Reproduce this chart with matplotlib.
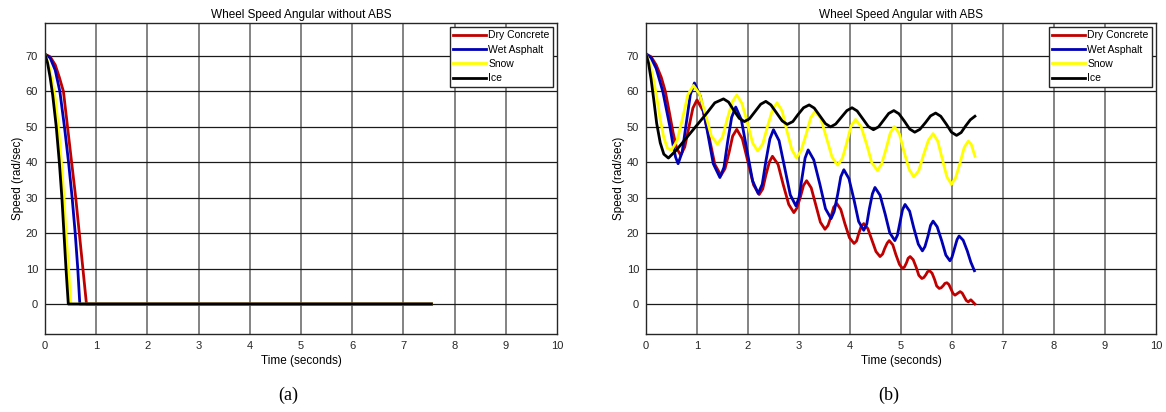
import numpy as np
import matplotlib
matplotlib.use("Agg")
import matplotlib.pyplot as plt

plt.rcParams['font.family'] = ['Liberation Sans', 'DejaVu Sans']

labels = ["Dry Concrete", "Wet Asphalt", "Snow", "Ice"]
colors = ["#c00000", "#0000b4", "#ffff00", "#000000"]

# ---- (a) without ABS : time (s), speed (rad/s) ----
dry_t_a = [0, 0.1, 0.2, 0.28, 0.36, 0.44, 0.52, 0.6, 0.67, 0.74, 0.81, 7.55]
dry_v_a = [70.5, 69.8, 67.5, 64, 60, 50, 40, 30, 20, 10, 0, 0]
wet_t_a = [0, 0.1, 0.2, 0.29, 0.38, 0.46, 0.53, 0.59, 0.64, 0.68, 7.55]
wet_v_a = [70.5, 69.5, 66, 60, 50, 40, 30, 20, 10, 0, 0]
snow_t_a = [0, 0.08, 0.14, 0.2, 0.26, 0.32, 0.37, 0.41, 0.46, 0.5, 7.55]
snow_v_a = [70.5, 67, 63, 58, 50, 40, 30, 20, 10, 0, 0]
ice_t_a = [0, 0.05, 0.1, 0.15, 0.22, 0.28, 0.33, 0.37, 0.41, 0.455, 7.55]
ice_v_a = [70.5, 68, 64, 59, 50, 40, 30, 20, 10, 0, 0]

# ---- (b) with ABS ----
dry_t_b = [0, 0.1, 0.2, 0.3, 0.38, 0.46, 0.53, 0.6, 0.68, 0.76, 0.84, 0.92, 1.0,
           1.12, 1.24, 1.35, 1.47, 1.55, 1.63, 1.7, 1.78, 1.89, 2.0, 2.11, 2.22,
           2.29, 2.35, 2.42, 2.48, 2.59, 2.69, 2.8, 2.9, 2.96, 3.03, 3.09, 3.15,
           3.24, 3.33, 3.42, 3.51, 3.57, 3.63, 3.68, 3.74, 3.82, 3.9, 3.99, 4.08,
           4.13, 4.17, 4.22, 4.27, 4.35, 4.43, 4.51, 4.59, 4.64, 4.68, 4.73, 4.77,
           4.84, 4.9, 4.97, 5.03, 5.07, 5.11, 5.14, 5.18, 5.24, 5.3, 5.35, 5.41,
           5.45, 5.49, 5.52, 5.56, 5.61, 5.66, 5.7, 5.75, 5.79, 5.83, 5.86, 5.9,
           5.94, 5.98, 6.02, 6.06, 6.11, 6.16, 6.2, 6.24, 6.28, 6.32, 6.37, 6.45]
dry_v_b = [70.6, 69.8, 67.5, 64, 60, 54, 48.5, 44, 42, 44.3, 49.8, 55.3, 57.6,
           54.5, 47.0, 39.4, 36.3, 38.2, 42.8, 47.4, 49.3, 46.6, 40.1, 33.6, 30.9,
           32.5, 36.3, 40.1, 41.7, 39.4, 33.75, 28.1, 25.8, 27.1, 30.3, 33.5, 34.8,
           32.8, 27.95, 23.1, 21.1, 22.2, 24.75, 27.3, 28.4, 26.7, 22.7, 18.7, 17.1,
           17.8, 19.8, 21.9, 22.7, 21.3, 18.05, 14.8, 13.4, 14.1, 15.65, 17.2, 17.9,
           16.7, 13.95, 11.2, 10.0, 10.5, 11.7, 12.9, 13.4, 12.5, 10.3, 8.1, 7.2,
           7.5, 8.3, 9.1, 9.4, 8.7, 6.9, 5.1, 4.4, 4.6, 5.2, 5.8, 6.0,
           5.5, 4.25, 3.0, 2.5, 3.0, 3.5, 3.1, 2.05, 1.0, 0.6, 1.2, 0.0]

wet_t_b = [0, 0.1, 0.2, 0.27, 0.33, 0.4, 0.47, 0.53, 0.58, 0.63, 0.71, 0.79, 0.87,
           0.95, 1.07, 1.2, 1.32, 1.45, 1.53, 1.6, 1.68, 1.76, 1.87, 1.98, 2.09,
           2.2, 2.28, 2.35, 2.43, 2.5, 2.61, 2.72, 2.83, 2.94, 3.0, 3.06, 3.12,
           3.18, 3.29, 3.41, 3.52, 3.63, 3.69, 3.76, 3.82, 3.88, 3.98, 4.08, 4.17,
           4.27, 4.33, 4.38, 4.44, 4.49, 4.59, 4.69, 4.78, 4.88, 4.93, 4.98, 5.03,
           5.08, 5.17, 5.25, 5.34, 5.42, 5.47, 5.53, 5.58, 5.63, 5.71, 5.8, 5.88,
           5.96, 6.0, 6.05, 6.1, 6.14, 6.22, 6.3, 6.37, 6.44]
wet_v_b = [70.6, 69.5, 66.5, 63, 60, 55, 50, 45, 41.5, 39.6, 42.9, 51.0, 59.1,
           62.4, 58.5, 49.05, 39.6, 35.7, 38.6, 45.65, 52.7, 55.6, 52.0, 43.4, 34.8,
           31.2, 33.8, 40.2, 46.6, 49.2, 46.1, 38.45, 30.8, 27.7, 30.0, 35.6, 41.2,
           43.5, 40.7, 33.8, 26.9, 24.1, 26.1, 31.0, 35.9, 37.9, 35.4, 29.35, 23.3,
           20.8, 22.6, 26.85, 31.1, 32.9, 30.7, 25.4, 20.1, 17.9, 19.4, 23.0, 26.6,
           28.1, 26.2, 21.55, 16.9, 15.0, 16.2, 19.2, 22.2, 23.4, 21.8, 17.8, 13.8,
           12.2, 13.2, 15.7, 18.2, 19.2, 18.0, 15.0, 11.8, 9.4]

snow_t_b = [0, 0.08, 0.15, 0.21, 0.28, 0.35, 0.42, 0.5, 0.61, 0.72, 0.82, 0.93,
            1.05, 1.17, 1.28, 1.4, 1.5, 1.59, 1.69, 1.78, 1.88, 1.99, 2.09, 2.19,
            2.29, 2.38, 2.48, 2.57, 2.67, 2.76, 2.86, 2.95, 3.04, 3.14, 3.23, 3.32,
            3.43, 3.54, 3.65, 3.76, 3.85, 3.94, 4.02, 4.11, 4.22, 4.33, 4.43, 4.54,
            4.62, 4.71, 4.79, 4.87, 4.97, 5.06, 5.16, 5.25, 5.35, 5.44, 5.54, 5.63,
            5.72, 5.81, 5.9, 5.99, 6.07, 6.16, 6.24, 6.32, 6.38, 6.45]
snow_v_b = [70.6, 67.5, 63, 58.5, 52, 47, 44, 43.4, 46.1, 52.55, 59.0, 61.7,
            59.3, 53.4, 47.5, 45.1, 47.1, 52.05, 57.0, 59.0, 56.7, 51.1, 45.5, 43.2,
            45.2, 50.0, 54.8, 56.8, 54.5, 49.05, 43.6, 41.3, 43.2, 47.9, 52.6, 54.5,
            52.3, 46.85, 41.4, 39.2, 41.1, 45.65, 50.2, 52.1, 50.0, 44.9, 39.8, 37.7,
            39.5, 43.9, 48.3, 50.1, 48.0, 43.0, 38.0, 35.9, 37.7, 42.0, 46.3, 48.1,
            46.0, 40.95, 35.9, 33.8, 35.6, 39.9, 44.2, 46.0, 45.0, 41.7]

ice_t_b = [0, 0.05, 0.1, 0.15, 0.21, 0.28, 0.35, 0.44, 0.6, 0.8, 1.0, 1.2, 1.35,
           1.52, 1.62, 1.72, 1.83, 1.93, 2.03, 2.14, 2.25, 2.35, 2.45, 2.56, 2.67,
           2.77, 2.88, 2.98, 3.09, 3.2, 3.3, 3.41, 3.52, 3.62, 3.72, 3.83, 3.94,
           4.04, 4.14, 4.25, 4.36, 4.46, 4.56, 4.66, 4.76, 4.86, 4.96, 5.07, 5.17,
           5.27, 5.37, 5.48, 5.58, 5.68, 5.78, 5.89, 5.99, 6.09, 6.18, 6.27, 6.36,
           6.45]
ice_v_b = [70.6, 68, 63.5, 58, 51, 45.5, 42.3, 41.2, 43.5, 47, 50.5, 54, 56.8,
           57.9, 57.0, 54.7, 52.4, 51.5, 52.3, 54.35, 56.4, 57.2, 56.2, 53.95, 51.7,
           50.7, 51.5, 53.45, 55.4, 56.2, 55.3, 53.1, 50.9, 50.0, 50.8, 52.7, 54.6,
           55.4, 54.5, 52.3, 50.1, 49.2, 50.0, 51.9, 53.8, 54.6, 53.7, 51.55, 49.4,
           48.5, 49.3, 51.2, 53.1, 53.9, 53.0, 50.75, 48.5, 47.6, 48.4, 50.3, 52.0,
           53.0]

series_a = [(dry_t_a, dry_v_a), (wet_t_a, wet_v_a), (snow_t_a, snow_v_a), (ice_t_a, ice_v_a)]
series_b = [(dry_t_b, dry_v_b), (wet_t_b, wet_v_b), (snow_t_b, snow_v_b), (ice_t_b, ice_v_b)]

fig = plt.figure(figsize=(11.66, 4.12), dpi=100)
ax1 = fig.add_axes([0.0386, 0.189, 0.439, 0.755])
ax2 = fig.add_axes([0.554, 0.189, 0.4374, 0.755])


def style_axes(ax, title):
    ax.set_xlim(0, 10)
    ax.set_ylim(-8.5, 79.3)
    ax.set_xticks(range(0, 11))
    ax.set_yticks(range(0, 71, 10))
    ax.tick_params(direction='in', length=0, labelsize=8, colors='#262626', pad=5)
    for x in range(1, 10):
        ax.axvline(x, color='#7a7a7a', lw=1.3, zorder=0)
    for y in range(0, 71, 10):
        ax.axhline(y, color='#1a1a1a', lw=0.9, zorder=0)
    for s in ax.spines.values():
        s.set_color('#262626')
        s.set_linewidth(1.0)
    ax.set_title(title, fontsize=8.5, pad=4)
    ax.set_xlabel("Time (seconds)", fontsize=8.5, labelpad=3)
    ax.set_ylabel("Speed (rad/sec)", fontsize=8.5, labelpad=1)


for ax, series, title in [(ax1, series_a, "Wheel Speed Angular without ABS"),
                          (ax2, series_b, "Wheel Speed Angular with ABS")]:
    style_axes(ax, title)
    for (t, v), c, lab in zip(series, colors, labels):
        ax.plot(t, v, color=c, lw=2.0, label=lab)
    leg = ax.legend(loc='upper right', fontsize=7.5, fancybox=False, framealpha=1,
                    edgecolor='#262626', handlelength=3.1, handletextpad=0.25,
                    labelspacing=0.42, borderpad=0.35, borderaxespad=0.35)
    leg.get_frame().set_linewidth(1.0)

fig.text(0.247, 0.041, "(a)", fontsize=13, family='Liberation Serif', ha='center', va='center')
fig.text(0.762, 0.041, "(b)", fontsize=13, family='Liberation Serif', ha='center', va='center')

fig.savefig("out.png", dpi=100)
